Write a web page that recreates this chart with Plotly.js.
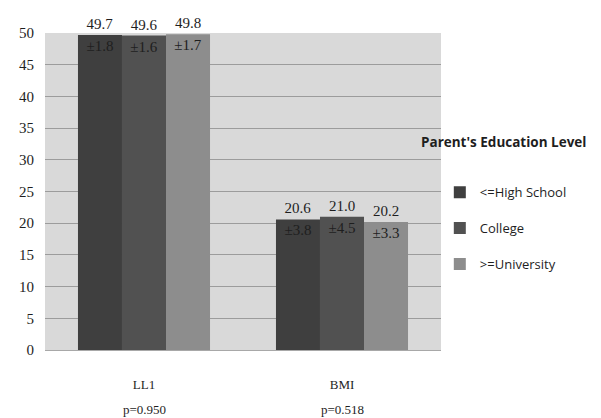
<!DOCTYPE html>
<html>
<head>
<meta charset="utf-8">
<script src="https://cdn.plot.ly/plotly-3.0.1.min.js"></script>
<style>
  html, body { margin: 0; padding: 0; background: #ffffff; }
  #chart { width: 601px; height: 418px; }
</style>
</head>
<body>
<div id="chart"></div>
<script>
// Measures compared across parent's education level
const measures = ['LL1', 'BMI'];
const pValues = ['p=0.950', 'p=0.518'];
const groups = ['<=High School', 'College', '>=University'];
const means = [
  [49.7, 20.6],  // <=High School
  [49.6, 21.0],  // College
  [49.8, 20.2]   // >=University
];
const sds = [
  [1.8, 3.8],
  [1.6, 4.5],
  [1.7, 3.3]
];
const colors = ['#3f3f3f', '#515151', '#8d8d8d'];

const serif = 'Liberation Serif, serif';
const sans = 'Open Sans, Liberation Sans, sans-serif';

const traces = [];
groups.forEach((g, i) => {
  // visible bar with mean printed above it
  traces.push({
    type: 'bar',
    name: g,
    x: measures,
    y: means[i],
    offsetgroup: String(i),
    legendgroup: 'g' + i,
    marker: { color: colors[i], line: { width: 0 } },
    text: means[i].map(v => v.toFixed(1)),
    textposition: 'outside',
    textfont: { family: serif, size: 15, color: '#1e1e1e' },
    cliponaxis: false,
    hoverinfo: 'skip'
  });
  // overlay carrying the ± SD label at the top inside of each bar
  traces.push({
    type: 'bar',
    name: g + ' sd',
    x: measures,
    y: means[i],
    offsetgroup: String(i),
    showlegend: false,
    marker: { color: 'rgba(0,0,0,0)', line: { width: 0 } },
    text: sds[i].map(v => '\u00b1' + v.toFixed(1)),
    textposition: 'inside',
    insidetextanchor: 'end',
    constraintext: 'none',
    textfont: { family: serif, size: 15, color: '#1e1e1e' },
    hoverinfo: 'skip'
  });
});

// p-values printed under each category label
const annotations = measures.map((m, k) => ({
  x: m, xref: 'x', y: 0, yref: 'y',
  yshift: -59, yanchor: 'middle',
  text: pValues[k], showarrow: false,
  font: { family: serif, size: 13, color: '#1e1e1e' }
}));
// legend heading
annotations.push({
  x: 1.0, xref: 'paper', xanchor: 'left', xshift: -22,
  y: 0.655, yref: 'paper', yanchor: 'middle',
  text: "<b>Parent's Education Level</b>", showarrow: false,
  font: { family: sans, size: 13.5, color: '#1e1e1e' }
});

const layout = {
  width: 601, height: 418,
  margin: { l: 45, r: 160, t: 33, b: 68 },
  paper_bgcolor: '#ffffff',
  plot_bgcolor: '#d9d9d9',
  barmode: 'group',
  bargap: 0.333,
  bargroupgap: 0,
  showlegend: true,
  legend: {
    x: 0.997, xanchor: 'left', y: 0.545, yanchor: 'top',
    font: { family: sans, size: 13, color: '#1e1e1e' },
    tracegroupgap: 16,
    itemwidth: 30,
    bgcolor: 'rgba(0,0,0,0)'
  },
  xaxis: {
    type: 'category',
    tickfont: { family: serif, size: 13, color: '#1e1e1e' },
    ticks: '', ticklabelstandoff: 22,
    showline: true, linecolor: '#a8a8a8', linewidth: 1,
    showgrid: false
  },
  yaxis: {
    range: [0, 50], dtick: 5,
    tickfont: { family: serif, size: 15, color: '#1e1e1e' },
    ticks: '', ticklabelstandoff: 10,
    showgrid: true, gridcolor: '#9c9c9c', gridwidth: 1,
    zeroline: false, showline: false
  },
  annotations: annotations
};

Plotly.newPlot('chart', traces, layout, { displayModeBar: false, staticPlot: true });
</script>
</body>
</html>
